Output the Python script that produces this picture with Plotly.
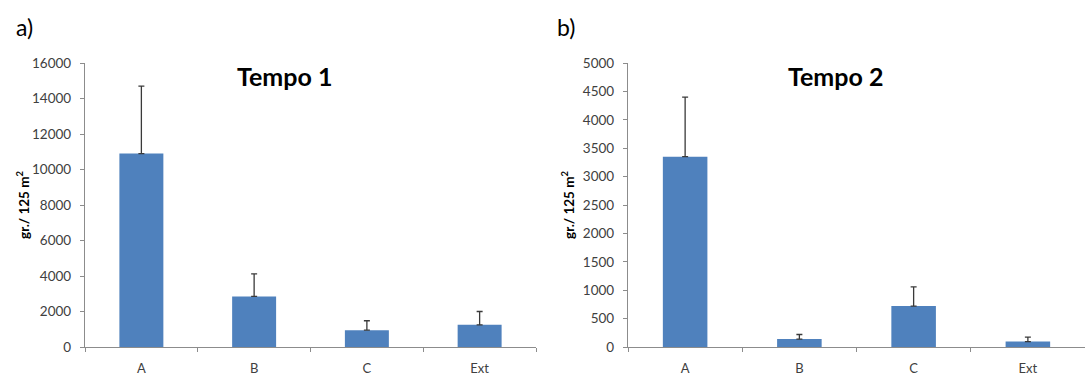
import plotly.graph_objects as go

categories = ["A", "B", "C", "Ext"]
tempo1_values = [10900, 2850, 950, 1250]
tempo1_errors = [3800, 1270, 530, 750]
tempo2_values = [3350, 140, 720, 95]
tempo2_errors = [1050, 80, 340, 80]
titles = ["Tempo 1", "Tempo 2"]
panel_labels = ["a)", "b)"]
y_title = "gr./ 125 m<sup>2</sup>"

W, H = 1085, 378
FONT = "Lato, Calibri, sans-serif"
BAR = "#4F81BD"
AX = "#8C8C8C"
TXT = "#404040"

fig = go.Figure()
for vals, errs, xa, ya in [(tempo1_values, tempo1_errors, "x", "y"),
                           (tempo2_values, tempo2_errors, "x2", "y2")]:
    fig.add_trace(go.Bar(
        x=categories, y=vals, xaxis=xa, yaxis=ya,
        marker=dict(color=BAR, line=dict(width=0)),
        error_y=dict(type="data", array=errs, arrayminus=[0] * len(errs),
                     symmetric=False, color="#3A3A3A", thickness=1.3, width=3),
        showlegend=False,
    ))

ybot = (H - 347) / H
ytop = (H - 63) / H

common_x = dict(type="category", showline=True, linecolor=AX, linewidth=1.2,
                ticks="outside", tickson="boundaries", ticklen=4, tickcolor=AX,
                showgrid=False, zeroline=False, automargin=False,
                ticklabelstandoff=9,
                tickfont=dict(family=FONT, size=13, color=TXT), range=[-0.5, 3.5])
common_y = dict(showline=True, linecolor=AX, linewidth=1.2, ticks="outside",
                ticklen=4, tickcolor=AX, showgrid=False, zeroline=False,
                tickformat="d", automargin=False, ticklabelstandoff=6,
                tickfont=dict(family=FONT, size=13.5, color=TXT))

fig.update_layout(
    width=W, height=H,
    margin=dict(l=0, r=0, t=0, b=0, autoexpand=False),
    paper_bgcolor="white", plot_bgcolor="white",
    bargap=0.61,
    xaxis=dict(domain=[85 / W, 536 / W], anchor="y", **common_x),
    yaxis=dict(domain=[ybot, ytop], anchor="x", range=[0, 16000], dtick=2000, **common_y),
    xaxis2=dict(domain=[628 / W, 1.0], anchor="y2", **common_x),
    yaxis2=dict(domain=[ybot, ytop], anchor="x2", range=[0, 5000], dtick=500, **common_y),
)

ann = []
for i, (cx, lx, ax_x) in enumerate([(285, 24, 23), (835, 566, 568)]):
    ann.append(dict(x=cx / W, y=1 - 76 / H, xref="paper", yref="paper",
                    text="<b>" + titles[i] + "</b>", showarrow=False,
                    font=dict(family=FONT, size=25, color="black"),
                    xanchor="center", yanchor="middle"))
    ann.append(dict(x=lx / W, y=1 - 27 / H, xref="paper", yref="paper",
                    text=panel_labels[i], showarrow=False,
                    font=dict(family=FONT, size=23, color="black"),
                    xanchor="center", yanchor="middle"))
    ann.append(dict(x=ax_x / W, y=1 - 205 / H, xref="paper", yref="paper",
                    text="<b>" + y_title + "</b>", showarrow=False, textangle=-90,
                    font=dict(family=FONT, size=13.5, color="black"),
                    xanchor="center", yanchor="middle"))
fig.update_layout(annotations=ann)

fig.write_html("out.html", config={"displayModeBar": False},
               post_script="document.body.style.margin='0';document.body.style.overflow='hidden';")
